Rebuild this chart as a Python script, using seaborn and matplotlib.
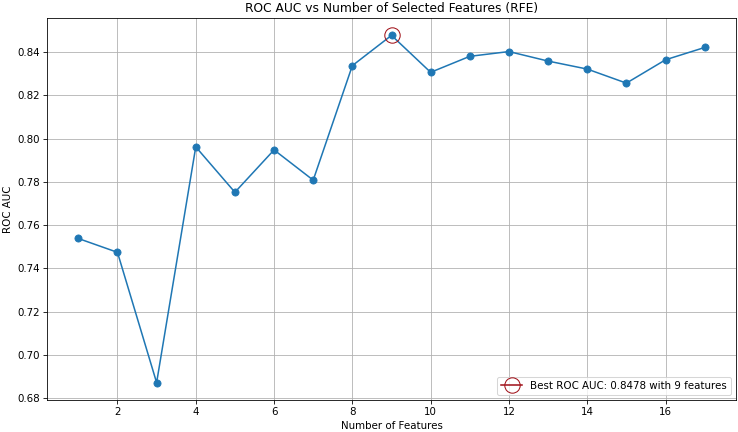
import matplotlib
matplotlib.use("Agg")
import matplotlib.pyplot as plt
import seaborn as sns
import numpy as np

n_features = [1, 2, 3, 4, 5, 6, 7, 8, 9, 10, 11, 12, 13, 14, 15, 16, 17]
roc_auc = [0.7538, 0.7474, 0.6871, 0.7962, 0.7752, 0.7948, 0.7808, 0.8338,
           0.8478, 0.8307, 0.8381, 0.8403, 0.8359, 0.8322, 0.8257, 0.8365, 0.8422]
best_n = 9
best_auc = 0.8478

DPI = 73.8
fig, ax = plt.subplots(figsize=(738 / DPI, 432 / DPI), dpi=DPI)
sns.lineplot(x=n_features, y=roc_auc, marker='o', color='#1f77b4',
             markeredgecolor='#1f77b4', markersize=7, ax=ax)
ax.plot([best_n], [best_auc], marker='o', color='#a01018', markerfacecolor='none',
        markersize=15, label=f'Best ROC AUC: {best_auc:.4f} with {best_n} features')
ax.set_title('ROC AUC vs Number of Selected Features (RFE)')
ax.set_xlabel('Number of Features')
ax.set_ylabel('ROC AUC')
ax.grid(True)
ax.legend(loc='lower right')
fig.subplots_adjust(left=47 / 738, right=736 / 738, top=1 - 18 / 432, bottom=1 - 400 / 432)
fig.savefig('out.png', dpi=DPI)
